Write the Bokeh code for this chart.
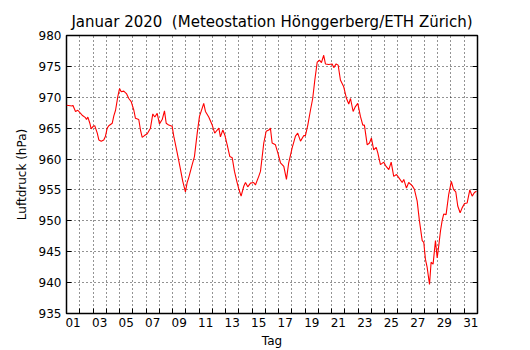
from bokeh.plotting import figure
from bokeh.models import FixedTicker, LinearAxis, Range1d
from bokeh.embed import file_html
from bokeh.resources import INLINE

# --- data (day of month as fractional day, 0 = Jan 1 00:00) ---
day = [0.00, 0.43, 0.48, 0.68, 0.85, 1.18, 1.43, 1.51, 1.61, 1.76, 1.86, 2.01, 2.13, 2.32, 2.44,
       2.62, 2.81, 2.94, 3.07, 3.19, 3.45, 3.57, 3.70, 3.87, 4.00, 4.13, 4.32, 4.52, 4.70, 4.88,
       5.08, 5.20, 5.45, 5.58, 5.71, 5.88, 6.09, 6.33, 6.51, 6.66, 6.84, 7.01, 7.22, 7.39, 7.52,
       7.71, 7.97, 8.09, 8.35, 8.60, 8.77, 8.97, 9.10, 9.22, 9.48, 9.65, 9.86, 10.03, 10.23, 10.35,
       10.48, 10.73, 10.99, 11.18, 11.37, 11.49, 11.61, 11.79, 11.94, 12.12, 12.32, 12.50, 12.67,
       12.87, 12.99, 13.17, 13.37, 13.50, 13.67, 13.88, 14.12, 14.25, 14.50, 14.63, 14.88, 15.06,
       15.26, 15.38, 15.51, 15.76, 15.94, 16.14, 16.39, 16.59, 16.76, 17.02, 17.27, 17.44, 17.65,
       17.90, 18.02, 18.20, 18.40, 18.57, 18.73, 18.91, 19.08, 19.23, 19.40, 19.53, 19.78, 20.04,
       20.16, 20.34, 20.49, 20.66, 20.91, 21.12, 21.29, 21.42, 21.62, 21.79, 21.97, 22.17, 22.35,
       22.47, 22.68, 22.85, 23.00, 23.17, 23.36, 23.48, 23.68, 23.93, 24.11, 24.31, 24.49, 24.68,
       24.89, 25.06, 25.32, 25.44, 25.64, 25.81, 26.07, 26.24, 26.45, 26.62, 26.83, 26.95, 27.07,
       27.20, 27.38, 27.50, 27.65, 27.83, 27.96, 28.08, 28.21, 28.33, 28.45, 28.63, 28.83, 29.03,
       29.19, 29.36, 29.51, 29.69, 29.84, 30.02, 30.22, 30.42, 30.60, 30.77, 30.92]

pressure = [968.7, 968.6, 968.7, 967.7, 967.9, 967.1, 966.7, 966.4, 966.8, 965.8, 964.9, 965.3, 965.4, 964.2, 963.1,
            962.9, 963.1, 963.7, 965.0, 965.4, 965.8, 967.0, 967.9, 970.1, 971.4, 970.9, 971.0, 970.6, 969.8, 969.3,
            967.9, 966.6, 966.4, 964.7, 963.5, 963.8, 964.1, 965.0, 967.3, 966.8, 967.4, 965.7, 966.4, 967.8, 965.8,
            965.5, 965.3, 963.7, 961.0, 958.3, 956.4, 954.7, 956.2, 957.0, 959.1, 960.4, 964.2, 966.9, 968.2, 969.0,
            967.7, 966.8, 965.5, 964.2, 964.7, 965.0, 963.6, 964.7, 963.9, 962.3, 960.4, 960.2, 958.0,
            956.2, 955.2, 954.0, 955.6, 956.2, 955.5, 956.1, 956.2, 955.8, 957.2, 958.0, 962.6, 964.5,
            964.7, 965.0, 962.6, 962.3, 961.0, 959.4, 958.8, 956.7, 959.4, 961.8, 963.7, 964.2, 962.9,
            963.8, 963.8, 965.5, 967.9, 969.8, 972.8, 975.7, 976.0, 975.6, 976.8, 975.4, 975.3, 975.4,
            974.8, 975.4, 975.2, 972.8, 971.7, 969.8, 968.9, 969.8, 967.7, 968.5, 969.0, 966.9, 965.5,
            965.5, 962.3, 962.6, 963.4, 961.5, 961.9, 961.0, 959.1, 959.5, 958.8, 958.3, 959.5, 957.2,
            957.5, 957.0, 956.2, 956.7, 955.3, 956.2, 955.7, 955.1, 953.2, 950.0, 946.8, 946.5, 943.8,
            942.5, 939.7, 943.3, 943.0, 946.8, 944.0, 946.0, 948.4, 950.0, 951.1, 951.0, 954.3, 956.4,
            955.1, 954.7, 952.4, 951.3, 952.1, 952.8, 952.9, 955.0, 954.0, 954.6, 954.8]

day_label_pos = [0.5 + 2 * i for i in range(16)]
day_labels = ["%02d" % (1 + 2 * i) for i in range(16)]
day_bounds = list(range(1, 31))
p_ticks = [935, 940, 945, 950, 955, 960, 965, 970, 975, 980]

FONT = "DejaVu Sans"

p = figure(width=520, height=350, output_backend="svg", toolbar_location=None,
           x_range=Range1d(0, 31), y_range=Range1d(935, 980),
           min_border_left=66, min_border_right=43, min_border_top=35, min_border_bottom=35,
           background_fill_color="white", border_fill_color="white")

p.title.text = "Januar 2020\u00a0 (Meteostation Hönggerberg/ETH Zürich)"
p.title.text_font = FONT
p.title.text_font_size = "15px"
p.title.text_font_style = "normal"
p.title.align = "center"
p.title.text_color = "black"

p.outline_line_color = "black"
p.outline_line_width = 1.5

# x axis
xa = p.xaxis[0]
xa.ticker = FixedTicker(ticks=day_label_pos, minor_ticks=day_bounds)
xa.major_label_overrides = {pos: lab for pos, lab in zip(day_label_pos, day_labels)}
xa.major_tick_line_color = None
xa.major_tick_in = 0
xa.major_tick_out = 0
xa.minor_tick_in = 5
xa.minor_tick_out = 0
xa.minor_tick_line_color = "black"
xa.axis_line_color = None
xa.major_label_text_font = FONT
xa.major_label_text_font_size = "12px"
xa.major_label_text_color = "black"
xa.major_label_standoff = 4
xa.axis_label = "Tag"
xa.axis_label_text_font = FONT
xa.axis_label_text_font_size = "12px"
xa.axis_label_text_font_style = "normal"
xa.axis_label_text_color = "black"
xa.axis_label_standoff = 4

# y axis
ya = p.yaxis[0]
ya.ticker = FixedTicker(ticks=p_ticks)
ya.major_tick_in = 5
ya.major_tick_out = 0
ya.major_tick_line_color = "black"
ya.minor_tick_line_color = None
ya.axis_line_color = None
ya.major_label_text_font = FONT
ya.major_label_text_font_size = "12px"
ya.major_label_text_color = "black"
ya.major_label_standoff = 5
ya.axis_label = "Luftdruck (hPa)"
ya.axis_label_text_font = FONT
ya.axis_label_text_font_size = "12px"
ya.axis_label_text_font_style = "normal"
ya.axis_label_text_color = "black"
ya.axis_label_standoff = 7

# right-hand tick marks only (no labels)
ra = LinearAxis(ticker=FixedTicker(ticks=p_ticks),
                major_label_overrides={t: "" for t in p_ticks},
                major_tick_in=5, major_tick_out=0, major_tick_line_color="black",
                minor_tick_line_color=None, axis_line_color=None, major_label_standoff=0)
p.add_layout(ra, "right")

# grids
p.xgrid.ticker = FixedTicker(ticks=day_bounds)
p.ygrid.ticker = FixedTicker(ticks=p_ticks)
for g in (p.xgrid[0], p.ygrid[0]):
    g.grid_line_color = "black"
    g.grid_line_alpha = 0.85
    g.grid_line_dash = "1 3"
    g.grid_line_width = 1

p.line(day, pressure, line_color="#ff0000", line_width=1.1)

open("out.html", "w").write(file_html(p, INLINE))
